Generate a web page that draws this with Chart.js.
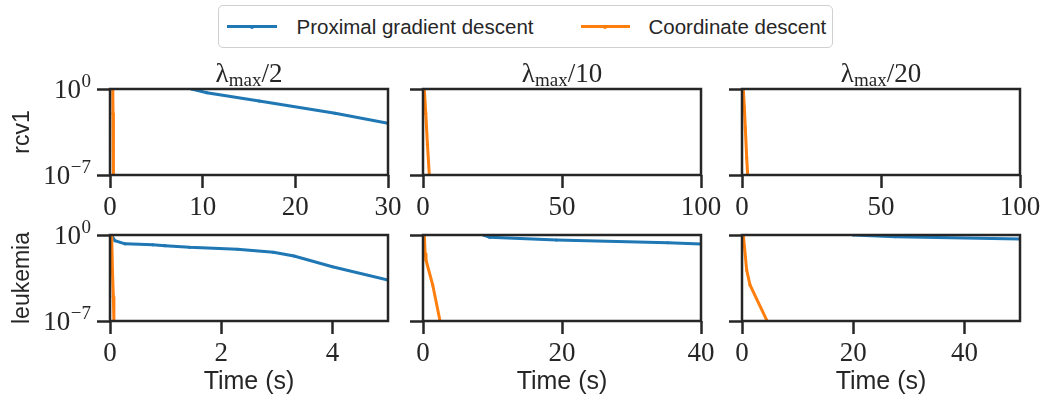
<!DOCTYPE html>
<html><head><meta charset="utf-8">
<script src="https://cdn.jsdelivr.net/npm/chart.js@4.4.1/dist/chart.umd.min.js"></script>
<style>
html,body{margin:0;padding:0;background:#fff;width:1043px;height:401px;overflow:hidden;position:relative;font-family:"Liberation Sans",Arial,sans-serif;}
canvas.panel{position:absolute;}
#legend{position:absolute;left:218px;top:5px;width:615px;height:43px;box-sizing:border-box;border:1.5px solid #d0d0d0;border-radius:5px;display:flex;align-items:center;background:#fff;padding-left:7.5px;}
.item{display:flex;align-items:center;}
.swatch{height:3px;position:relative;}
.swatch i{position:absolute;left:50%;top:50%;width:4px;height:4px;margin:-2px 0 0 -2px;border-radius:50%;}
.label{font-size:20.5px;color:#262626;white-space:nowrap;}
</style></head><body>
<div id="legend"></div>
<script>
// ---------------- data ----------------
const seriesNames = ["Proximal gradient descent", "Coordinate descent"];
const seriesColors = ["#1f77b4", "#ff7f0e"];
const rowLabels = ["rcv1", "leukemia"];
const colDenoms = ["2", "10", "20"];          // λmax / k
const xAxisTitle = "Time (s)";
const yTickValues = [1e-7, 1];
const yTickBase = ["10", "10"];
const yTickExp = ["\u22127", "0"];

const xMaxRcv1 = [30, 100, 100];
const xMaxLeuk = [5, 40, 50];
const xTicksRcv1 = [[0, 10, 20, 30], [0, 50, 100], [0, 50, 100]];
const xTicksLeuk = [[0, 2, 4], [0, 20, 40], [0, 20, 40]];

// rcv1, lambda_max/2
const rcv1_2_pgd_t = [8.8, 10.45, 16.1, 24.3, 30];
const rcv1_2_pgd_v = [1.0, 0.50, 0.105, 0.0105, 0.0016];
const rcv1_2_cd_t  = [0.30, 0.33, 0.36, 0.38];
const rcv1_2_cd_v  = [1, 1e-2, 1e-5, 1e-7];
// rcv1, lambda_max/10
const rcv1_10_pgd_t = [];
const rcv1_10_pgd_v = [];
const rcv1_10_cd_t  = [0.47, 1.0, 1.6, 2.27];
const rcv1_10_cd_v  = [1, 1e-2, 3e-5, 1e-7];
// rcv1, lambda_max/20
const rcv1_20_pgd_t = [];
const rcv1_20_pgd_v = [];
const rcv1_20_cd_t  = [0.47, 0.83, 1.19, 1.69, 2.05];
const rcv1_20_cd_v  = [1, 0.036, 6.8e-4, 2.5e-6, 1e-7];
// leukemia, lambda_max/2
const leuk_2_pgd_t = [0.03, 0.09, 0.27, 0.77, 0.99, 1.43, 2.29, 2.94, 3.31, 4.0, 5.0];
const leuk_2_pgd_v = [0.9, 0.34, 0.19, 0.16, 0.135, 0.10, 0.069, 0.039, 0.0196, 0.0026, 2.2e-4];
const leuk_2_cd_t  = [0.03, 0.045, 0.06, 0.07];
const leuk_2_cd_v  = [1, 1e-3, 1e-5, 1e-7];
// leukemia, lambda_max/10
const leuk_10_pgd_t = [8.7, 9.6, 19.2, 35.2, 40];
const leuk_10_pgd_v = [1.0, 0.65, 0.39, 0.235, 0.185];
const leuk_10_cd_t  = [0.19, 0.3, 0.43, 1.4, 2.45];
const leuk_10_cd_v  = [1, 0.032, 0.0093, 8.5e-5, 1e-7];
// leukemia, lambda_max/20
const leuk_20_pgd_t = [20, 27.6, 50];
const leuk_20_pgd_v = [1.0, 0.72, 0.47];
const leuk_20_cd_t  = [0.24, 0.84, 1.44, 4.44];
const leuk_20_cd_v  = [1, 1.4e-3, 8.5e-5, 1.2e-7];

// ---------------- styling / layout ----------------
const INK = "#262626";
const SERIF = '"Liberation Serif", "DejaVu Serif", serif';
const SANS = '"Liberation Sans", Arial, sans-serif';
const colLeft = [110, 423, 742];
const rowTop = [89, 235];
const plotW = 278, plotH = 86;
const padL = 110, padT = 40, padR = 30, padB = 80;

const panels = [
  {r:0,c:0,xMax:xMaxRcv1[0],xt:xTicksRcv1[0],s:[[rcv1_2_pgd_t,rcv1_2_pgd_v],[rcv1_2_cd_t,rcv1_2_cd_v]]},
  {r:0,c:1,xMax:xMaxRcv1[1],xt:xTicksRcv1[1],s:[[rcv1_10_pgd_t,rcv1_10_pgd_v],[rcv1_10_cd_t,rcv1_10_cd_v]]},
  {r:0,c:2,xMax:xMaxRcv1[2],xt:xTicksRcv1[2],s:[[rcv1_20_pgd_t,rcv1_20_pgd_v],[rcv1_20_cd_t,rcv1_20_cd_v]]},
  {r:1,c:0,xMax:xMaxLeuk[0],xt:xTicksLeuk[0],s:[[leuk_2_pgd_t,leuk_2_pgd_v],[leuk_2_cd_t,leuk_2_cd_v]]},
  {r:1,c:1,xMax:xMaxLeuk[1],xt:xTicksLeuk[1],s:[[leuk_10_pgd_t,leuk_10_pgd_v],[leuk_10_cd_t,leuk_10_cd_v]]},
  {r:1,c:2,xMax:xMaxLeuk[2],xt:xTicksLeuk[2],s:[[leuk_20_pgd_t,leuk_20_pgd_v],[leuk_20_cd_t,leuk_20_cd_v]]},
];

// ---------------- plugins ----------------
const framePlugin = {
  id: 'frame',
  afterDatasetsDraw(chart) {
    const {ctx, chartArea: a} = chart;
    ctx.save();
    ctx.strokeStyle = INK; ctx.lineWidth = 2.5;
    ctx.strokeRect(a.left, a.top, a.right - a.left, a.bottom - a.top);
    ctx.restore();
  }
};
const lamTitlePlugin = {
  id: 'lamTitle',
  afterDraw(chart, args, opts) {
    if (!opts || !opts.den) return;
    const {ctx, chartArea: a} = chart;
    ctx.save();
    ctx.fillStyle = INK; ctx.textBaseline = 'alphabetic'; ctx.textAlign = 'left';
    const big = '27px ' + SERIF, small = '19px ' + SERIF;
    ctx.font = big; const w1 = ctx.measureText('\u03bb').width;
    ctx.font = small; const w2 = ctx.measureText('max').width;
    ctx.font = big; const w3 = ctx.measureText('/' + opts.den).width;
    const total = w1 + w2 + w3;
    let x = (a.left + a.right) / 2 - total / 2;
    const y = a.top - 7;
    ctx.font = big; ctx.fillText('\u03bb', x, y); x += w1;
    ctx.font = small; ctx.fillText('max', x, y + 4); x += w2;
    ctx.font = big; ctx.fillText('/' + opts.den, x, y);
    ctx.restore();
  }
};
const yLabelPlugin = {
  id: 'yLabels',
  afterDraw(chart, args, opts) {
    if (!opts || !opts.show) return;
    const {ctx, chartArea: a} = chart;
    const s = chart.scales.y;
    ctx.save();
    ctx.fillStyle = INK; ctx.textBaseline = 'alphabetic';
    yTickValues.forEach((v, i) => {
      const y = s.getPixelForValue(v);
      const right = a.left - 19;
      ctx.font = '19px ' + SERIF;
      const ew = ctx.measureText(yTickExp[i]).width;
      ctx.textAlign = 'left';
      ctx.fillText(yTickExp[i], right - ew, y - 2);
      ctx.font = '27px ' + SERIF;
      ctx.textAlign = 'right';
      ctx.fillText(yTickBase[i], right - ew - 0.5, y + 9);
    });
    ctx.restore();
  }
};

// ---------------- build ----------------
panels.forEach(p => {
  const cv = document.createElement('canvas');
  cv.className = 'panel';
  const W = padL + plotW + padR, H = padT + plotH + padB;
  cv.width = W; cv.height = H;
  cv.style.left = (colLeft[p.c] - padL) + 'px';
  cv.style.top = (rowTop[p.r] - padT) + 'px';
  cv.style.width = W + 'px'; cv.style.height = H + 'px';
  document.body.appendChild(cv);

  const datasets = p.s.map((pair, k) => ({
    label: seriesNames[k],
    data: pair[0].map((t, i) => ({x: t, y: pair[1][i]})),
    borderColor: seriesColors[k],
    backgroundColor: seriesColors[k],
    borderWidth: 3,
    pointRadius: 1.6,
    pointBorderWidth: 0,
    pointBackgroundColor: seriesColors[k],
    tension: 0,
    clip: 0,
    order: 1 - k
  }));

  new Chart(cv, {
    type: 'line',
    data: {datasets},
    plugins: [framePlugin, lamTitlePlugin, yLabelPlugin],
    options: {
      responsive: false, animation: false, devicePixelRatio: 1,
      layout: {padding: {left: 0, top: padT, right: padR, bottom: 0}},
      plugins: {
        legend: {display: false}, tooltip: {enabled: false},
        lamTitle: {den: p.r === 0 ? colDenoms[p.c] : null},
        yLabels: {show: p.c === 0}
      },
      scales: {
        x: {
          type: 'linear', min: 0, max: p.xMax,
          afterBuildTicks: s => { s.ticks = p.xt.map(v => ({value: v})); },
          afterFit: s => { s.height = padB; },
          border: {display: false},
          grid: {drawOnChartArea: false, drawTicks: true, tickLength: 13, tickWidth: 2.5, tickColor: INK},
          ticks: {font: {family: SERIF, size: 27}, color: INK, padding: 4, maxRotation: 0, autoSkip: false},
          title: {display: p.r === 1, text: xAxisTitle, color: INK, font: {family: SANS, size: 25}, padding: {top: 0, bottom: 4}}
        },
        y: {
          type: 'logarithmic', min: 1e-7, max: 1,
          afterBuildTicks: s => { s.ticks = yTickValues.map(v => ({value: v})); },
          afterFit: s => { s.width = padL; },
          border: {display: false},
          grid: {drawOnChartArea: false, drawTicks: true, tickLength: 13, tickWidth: 2.5, tickColor: INK},
          ticks: {display: false},
          title: {display: p.c === 0, text: rowLabels[p.r], color: INK, font: {family: SANS, size: 23}, padding: {top: 9, bottom: 0}}
        }
      }
    }
  });
});

// ---------------- legend ----------------
const legend = document.getElementById('legend');
const swW = [50, 49], gapAfterSw = [20, 19], gapAfterText = [47, 0];
seriesNames.forEach((name, k) => {
  const it = document.createElement('div'); it.className = 'item';
  const sw = document.createElement('div'); sw.className = 'swatch';
  sw.style.width = swW[k] + 'px'; sw.style.background = seriesColors[k];
  const dot = document.createElement('i'); dot.style.background = seriesColors[k]; sw.appendChild(dot);
  const lb = document.createElement('span'); lb.className = 'label'; lb.textContent = name;
  lb.style.marginLeft = gapAfterSw[k] + 'px'; lb.style.marginRight = gapAfterText[k] + 'px';
  it.appendChild(sw); it.appendChild(lb); legend.appendChild(it);
});
</script>
</body></html>
